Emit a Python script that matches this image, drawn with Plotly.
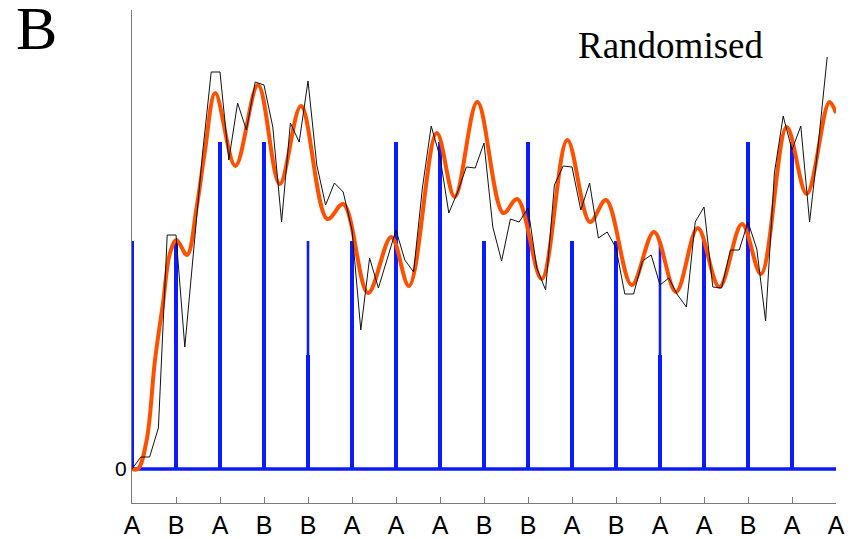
import numpy as np
import plotly.graph_objects as go

# Condition sequence along the x axis (one slot per trial onset)
tick_labels = ["A", "B", "A", "B", "B", "A", "A", "A", "B", "B",
               "A", "B", "A", "A", "B", "A", "A"]

# Stimulus regressor: height of each onset stick, and the height up to which
# the stick is drawn at full weight (the rest is drawn thinner)
stick_heights = [22.8, 22.8, 32.7, 32.7, 22.8, 22.8, 32.7, 32.7,
                 22.8, 32.7, 22.8, 22.8, 22.8, 22.8, 32.7, 32.7]
stick_solid = [22.8, 22.8, 32.7, 32.7, 11.4, 22.8, 32.7, 32.7,
               22.8, 32.7, 22.8, 22.8, 11.4, 22.8, 32.7, 32.7]

# Measured signal, sampled five times per trial slot
sample_step = 0.2
signal = [0.0, 1.2, 1.2, 4.1, 23.4, 23.4, 12.2, 21.9, 31.4, 39.7,
          39.7, 30.9, 36.6, 33.9, 38.7, 38.4, 34.2, 24.7, 34.6, 32.7,
          38.8, 30.4, 26.4, 28.6, 27.7, 23.9, 13.9, 21.1, 18.1, 21.0,
          23.9, 20.9, 19.7, 28.1, 34.3, 31.2, 25.6, 27.7, 30.2, 30.1,
          32.6, 24.2, 20.8, 25.0, 24.7, 26.1, 20.1, 17.9, 28.4, 30.3,
          30.2, 25.9, 28.6, 23.1, 23.7, 22.1, 17.5, 17.5, 20.8, 21.4,
          18.4, 19.1, 17.4, 16.2, 24.7, 26.2, 18.2, 18.1, 21.9, 21.9,
          24.7, 22.0, 14.8, 29.6, 35.3, 31.9, 34.3, 24.7, 32.6, 41.2]

# Fitted model response
fit_t = [0.0, 0.136, 0.334, 0.523, 0.705, 0.864, 1.011, 1.25, 1.47, 1.652,
         1.893, 2.348, 2.864, 3.357, 3.841, 4.439, 4.802, 5.364, 5.893,
         6.295, 6.925, 7.334, 7.848, 8.439, 8.757, 9.311, 9.893, 10.409,
         10.773, 11.357, 11.864, 12.364, 12.857, 13.348, 13.864, 14.295,
         14.88, 15.334, 15.848, 16.0]
fit_y = [0.0, 0.0, 2.9, 10.9, 16.6, 21.6, 22.9, 21.4, 26.2, 31.6,
         37.6, 30.3, 38.4, 28.5, 36.3, 25.0, 26.5, 17.6, 23.2,
         18.3, 33.6, 27.2, 36.7, 25.6, 27.0, 19.0, 32.9, 24.7,
         26.9, 18.4, 23.7, 17.7, 24.1, 18.2, 24.5, 19.5,
         34.2, 27.5, 36.7, 35.6]

BLUE = "#0b1bff"
ORANGE = "#ff5000"
AXIS = "#7a7a7a"

slots = list(range(len(tick_labels)))

fig = go.Figure()

# Baseline of the stimulus train
fig.add_trace(go.Scatter(x=[slots[0], slots[-1]], y=[0, 0], mode="lines",
                         line=dict(color=BLUE, width=3.3),
                         hoverinfo="skip", showlegend=False))

# Thin full-height sticks
xs, ys = [], []
for i, h in enumerate(stick_heights):
    xs += [slots[i], slots[i], None]
    ys += [0, h, None]
fig.add_trace(go.Scatter(x=xs, y=ys, mode="lines",
                         line=dict(color=BLUE, width=2.6),
                         hoverinfo="skip", showlegend=False))

# Full-weight part of each stick
xs, ys = [], []
for i, h in enumerate(stick_solid):
    xs += [slots[i], slots[i], None]
    ys += [0, h, None]
fig.add_trace(go.Scatter(x=xs, y=ys, mode="lines",
                         line=dict(color=BLUE, width=4),
                         hoverinfo="skip", showlegend=False))

# Fitted response
fig.add_trace(go.Scatter(x=fit_t, y=fit_y, mode="lines",
                         line=dict(color=ORANGE, width=4, shape="spline",
                                   smoothing=1.0),
                         hoverinfo="skip", showlegend=False))

# Measured signal
t = np.arange(len(signal)) * sample_step
fig.add_trace(go.Scatter(x=t, y=signal, mode="lines",
                         line=dict(color="#111111", width=1),
                         hoverinfo="skip", showlegend=False))

fig.update_layout(
    width=856, height=539,
    margin=dict(l=132, r=20, t=10, b=36),
    paper_bgcolor="white", plot_bgcolor="white",
    xaxis=dict(range=[0, 16], tickmode="array", tickvals=slots,
               ticktext=tick_labels, showgrid=False, zeroline=False,
               automargin=False,
               showline=True, linecolor=AXIS, linewidth=1,
               ticks="inside", ticklen=6, tickcolor=AXIS, tickwidth=1,
               tickfont=dict(family="Liberation Sans, Arial", size=25,
                             color="black")),
    yaxis=dict(range=[-3.4, 45.9], tickmode="array", tickvals=[0],
               ticktext=["0"], showgrid=False, zeroline=False,
               automargin=False,
               showline=True, linecolor=AXIS, linewidth=1, ticks="",
               tickfont=dict(family="Liberation Sans, Arial", size=21,
                             color="black")),
    annotations=[
        dict(text="B", xref="paper", yref="paper", x=-0.168, y=0.9645,
             xanchor="left", yanchor="middle", showarrow=False,
             font=dict(family="Liberation Serif, Times New Roman", size=62,
                       color="black")),
        dict(text="Randomised", xref="paper", yref="paper", x=0.765,
             y=0.927, xanchor="center", yanchor="middle", showarrow=False,
             font=dict(family="Liberation Serif, Times New Roman", size=37,
                       color="black")),
    ],
)

fig.write_html("out.html")
